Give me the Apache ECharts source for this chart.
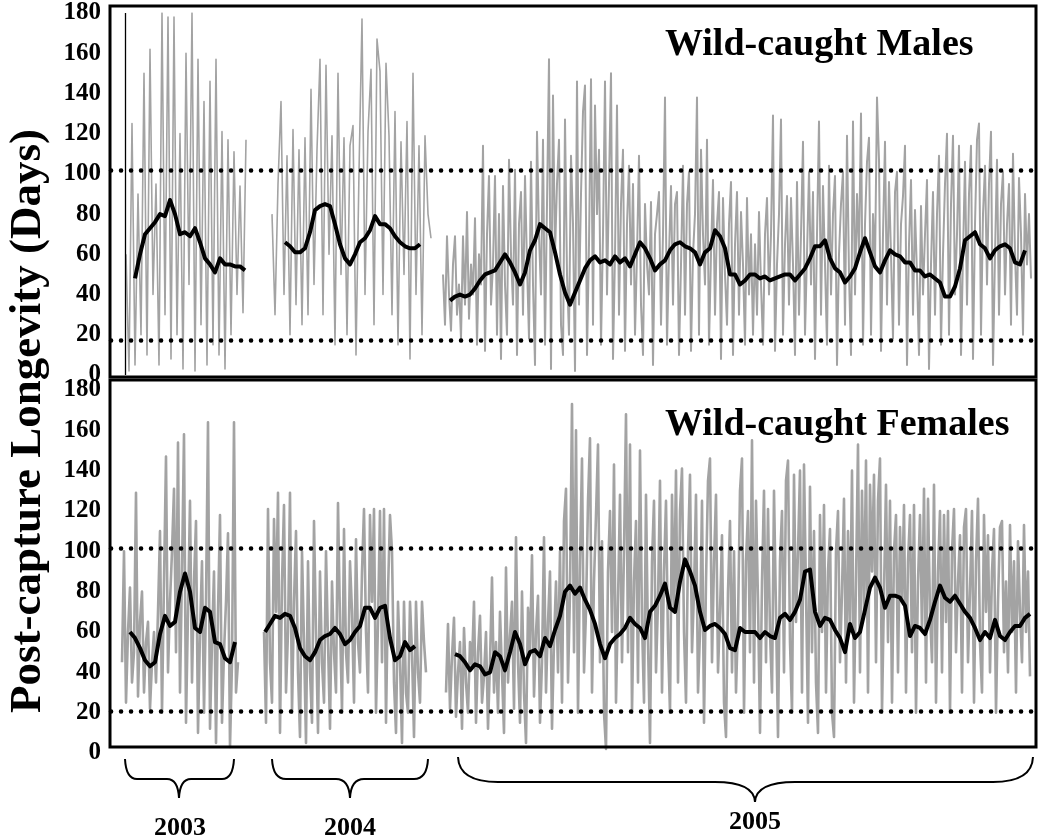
<!DOCTYPE html>
<html>
<head>
<meta charset="utf-8">
<script src="https://cdn.jsdelivr.net/npm/echarts@6/dist/echarts.min.js"></script>
<style>
  html, body { margin: 0; padding: 0; background: #fff; }
  #chart { width: 1050px; height: 840px; }
</style>
</head>
<body>
<div id="chart"></div>
<script>
// x is a day index along the season strip (0..925), y is post-capture longevity in days
const SPARSE_STEP = 3;  // daily values, plotted every 3rd day (males 2003/2004)
const DENSE_STEP = 2;   // daily values, plotted every 2nd day
const SMOOTH_STEP = 5;  // running mean, plotted every 5th day
const X_MAX = 925;

const yTicks = [0, 20, 40, 60, 80, 100, 120, 140, 160, 180];
const years = ['2003', '2004', '2005'];

// ---------- wild-caught males ----------
const maleRef = [102, 17.5];   // dotted limits
const maleStartLine = 14;      // thin line at the first sample day

const m03Start = 15, m03SmoothStart = 24;
const m03Daily = [60, 2, 125, 5, 90, 20, 150, 10, 162, 40, 95, 5, 180, 30, 178, 8, 178, 20, 120, 3,
  160, 45, 180, 2, 157, 25, 136, 5, 146, 15, 157, 10, 121, 3, 117, 20, 111, 40, 94, 31, 117];
const m03Smooth = [48, 60, 70, 73, 76, 80, 79, 87, 80, 70, 71, 69, 73, 66, 58, 55, 51, 58, 55, 55,
  54, 54, 52];

const m04Start = 161, m04SmoothStart = 174;
const m04Daily = [80, 30, 95, 136, 40, 109, 20, 122, 35, 112, 25, 118, 30, 142, 45, 112, 157, 30, 154, 60,
  119, 15, 150, 50, 118, 20, 114, 124, 10, 101, 177, 40, 121, 152, 25, 167, 151, 40, 155, 119,
  30, 131, 15, 116, 50, 126, 8, 150, 40, 114, 20, 119, 80, 68];
const m04Smooth = [66, 64, 61, 61, 63, 71, 82, 84, 85, 84, 75, 65, 58, 55, 60, 66, 68, 72, 79, 75,
  75, 73, 69, 66, 64, 63, 63, 65];

const m05Start = 332, m05SmoothStart = 339;
const m05Daily = [
  50, 25, 69, 40, 22, 55, 69, 30, 45, 18, 69, 35, 81, 28, 55, 40, 78, 15, 60, 45,
  114, 12, 70, 99, 35, 55, 99, 20, 80, 8, 94, 45, 20, 107, 60, 35, 102, 10, 75, 91,
  30, 99, 55, 18, 106, 45, 5, 121, 70, 40, 117, 15, 85, 157, 3, 139, 60, 95, 117, 25,
  10, 127, 50, 20, 109, 75, 2, 146, 35, 90, 131, 144, 10, 65, 147, 25, 134, 80, 112, 15,
  70, 146, 40, 95, 150, 8, 60, 134, 30, 85, 112, 12, 75, 104, 45, 95, 20, 60, 109, 35,
  10, 85, 55, 40, 86, 5, 70, 80, 91, 25, 70, 138, 15, 60, 94, 35, 85, 91, 10, 55,
  104, 30, 85, 101, 12, 60, 80, 138, 20, 112, 70, 45, 117, 15, 60, 97, 30, 75, 91, 8,
  88, 50, 25, 75, 96, 10, 65, 91, 30, 81, 55, 15, 88, 40, 70, 20, 65, 30, 81, 45,
  15, 70, 88, 40, 70, 129, 12, 55, 80, 127, 20, 65, 89, 35, 88, 55, 10, 96, 30, 70,
  116, 20, 60, 101, 45, 91, 8, 70, 126, 30, 94, 55, 15, 104, 40, 80, 99, 5, 60, 85,
  101, 25, 119, 50, 10, 126, 40, 90, 60, 130, 15, 75, 106, 118, 20, 80, 55, 138, 107, 12,
  70, 116, 35, 96, 60, 18, 91, 101, 25, 75, 89, 114, 5, 65, 97, 30, 82, 50, 10, 84,
  40, 70, 97, 3, 55, 91, 30, 80, 109, 15, 60, 95, 120, 20, 85, 119, 40, 70, 114, 10,
  60, 106, 35, 90, 114, 8, 75, 117, 125, 20, 80, 104, 45, 95, 121, 5, 60, 107, 30, 85,
  101, 40, 75, 95, 25, 110, 60, 30, 98, 70, 20, 90, 55, 80, 48];
const m05Smooth = [37, 39, 40, 39, 40, 43, 47, 50, 51, 52, 56, 60, 56, 51, 45, 51, 62, 67, 75, 73,
  71, 61, 50, 41, 35, 41, 47, 53, 57, 59, 56, 57, 55, 59, 56, 58, 54, 60, 66, 63,
  58, 52, 55, 57, 62, 65, 66, 64, 63, 61, 55, 61, 63, 72, 69, 63, 50, 50, 45, 47,
  50, 50, 48, 49, 47, 48, 49, 50, 50, 47, 50, 53, 58, 64, 64, 67, 58, 53, 51, 46,
  49, 53, 61, 68, 61, 54, 51, 57, 62, 60, 59, 56, 56, 52, 52, 49, 50, 48, 46, 39,
  39, 44, 53, 67, 69, 71, 65, 63, 58, 62, 64, 65, 63, 56, 55, 62];

// ---------- wild-caught females ----------
const femaleRef = [101.5, 20.5];

const f03Start = 11, f03SmoothStart = 19;
const f03Daily = [
  45, 100, 25, 60, 82, 35, 50, 129, 28, 65, 80, 30, 55, 65, 22, 45, 60, 35, 70, 110,
  20, 85, 147, 40, 75, 100, 131, 50, 154, 30, 90, 158, 15, 70, 125, 35, 85, 115, 10, 60,
  95, 20, 75, 164, 12, 55, 90, 5, 70, 118, 15, 50, 75, 109, 3, 45, 164, 30, 45];
const f03Smooth = [60, 57, 52, 46, 43, 45, 59, 68, 63, 65, 80, 89, 80, 62, 60, 72, 70, 55, 54, 47,
  45, 55];

const f04Start = 153, f04SmoothStart = 154;
const f04Daily = [
  60, 15, 121, 45, 25, 116, 70, 129, 10, 85, 123, 30, 60, 129, 20, 75, 110, 40, 8, 100,
  55, 5, 95, 40, 15, 115, 60, 10, 90, 45, 25, 100, 55, 12, 85, 50, 30, 124, 65, 20,
  111, 50, 35, 95, 70, 25, 106, 55, 40, 90, 121, 60, 30, 118, 75, 121, 20, 65, 120, 45,
  121, 15, 80, 118, 100, 35, 10, 75, 45, 5, 75, 30, 20, 75, 50, 8, 75, 40, 25, 75,
  55, 40];
const f04Smooth = [60, 64, 68, 67, 69, 68, 62, 52, 48, 46, 50, 56, 58, 59, 62, 59, 54, 56, 60, 63,
  72, 72, 67, 72, 73, 57, 46, 48, 55, 51, 53];

const f05Start = 335, f05SmoothStart = 344;
const f05Daily = [
  30, 64, 22, 48, 67, 18, 40, 55, 12, 62, 35, 20, 55, 44, 75, 15, 50, 68, 25, 38,
  60, 12, 45, 87, 30, 55, 20, 70, 40, 10, 92, 35, 58, 75, 22, 107, 45, 15, 80, 30,
  5, 72, 50, 98, 28, 60, 78, 15, 45, 107, 30, 65, 90, 12, 55, 85, 40, 100, 25, 115,
  131, 35, 80, 173, 50, 160, 20, 95, 146, 40, 70, 125, 156, 30, 85, 118, 153, 45, 105, 20,
  2, 90, 120, 60, 143, 25, 75, 128, 45, 100, 168, 50, 153, 20, 85, 115, 35, 150, 65, 25,
  128, 55, 5, 95, 125, 40, 75, 135, 30, 90, 125, 55, 20, 128, 70, 140, 35, 120, 141, 60,
  25, 100, 138, 50, 80, 128, 30, 60, 125, 15, 85, 135, 146, 45, 95, 128, 40, 70, 108, 25,
  8, 80, 115, 40, 100, 30, 65, 130, 146, 20, 95, 120, 50, 155, 35, 125, 75, 10, 85, 130,
  45, 121, 60, 30, 130, 70, 8, 95, 120, 40, 135, 145, 55, 20, 138, 65, 100, 140, 30, 143,
  80, 15, 132, 50, 110, 35, 10, 118, 60, 123, 30, 90, 111, 20, 8, 100, 120, 45, 80, 126,
  35, 110, 60, 140, 25, 85, 153, 40, 130, 70, 145, 30, 133, 90, 138, 45, 125, 146, 20, 80,
  133, 55, 125, 25, 100, 118, 40, 112, 75, 123, 30, 95, 118, 50, 123, 20, 85, 118, 60, 131,
  35, 126, 70, 45, 133, 25, 90, 120, 40, 118, 65, 120, 20, 100, 121, 50, 85, 108, 30, 112,
  121, 45, 80, 120, 25, 95, 126, 55, 30, 118, 70, 108, 40, 90, 111, 20, 75, 112, 115, 50,
  85, 40, 113, 60, 95, 30, 105, 70, 45, 113, 60, 90, 38];
const f05Smooth = [49, 48, 45, 41, 44, 43, 39, 40, 50, 48, 41, 50, 60, 54, 44, 50, 51, 48, 57, 53,
  61, 68, 80, 83, 79, 82, 76, 71, 64, 54, 47, 54, 57, 59, 62, 67, 64, 62, 57, 70,
  73, 78, 84, 72, 70, 85, 96, 90, 83, 70, 61, 63, 64, 62, 59, 52, 51, 62, 60, 60,
  60, 57, 60, 58, 57, 67, 69, 66, 70, 76, 90, 91, 70, 63, 67, 66, 61, 57, 50, 64,
  57, 60, 71, 82, 87, 82, 72, 78, 78, 77, 73, 58, 63, 62, 59, 66, 75, 83, 77, 75,
  78, 74, 70, 67, 62, 56, 60, 57, 66, 58, 56, 60, 63, 63, 67, 69];

const FONT = '"Liberation Serif", "Times New Roman", serif';
const GRAY = '#a3a3a3';

function pts(start, step, vals) {
  return vals.map((v, i) => [start + i * step, v]);
}

function lineSeries(panel, data, color, width, z, extra) {
  return Object.assign({
    type: 'line',
    xAxisIndex: panel,
    yAxisIndex: panel,
    data: data,
    symbol: 'none',
    showSymbol: false,
    silent: true,
    sampling: null,
    z: z,
    lineStyle: { color: color, width: width, join: 'round' }
  }, extra || {});
}

function refLines(vals, extra) {
  const d = vals.map(v => ({ yAxis: v }));
  return {
    markLine: {
      silent: true,
      symbol: 'none',
      animation: false,
      label: { show: false },
      lineStyle: { color: '#000', width: 4.5, type: [0.1, 9.9], cap: 'round' },
      data: d.concat(extra || [])
    }
  };
}

const series = [
  // males, daily values
  lineSeries(0, pts(m03Start, SPARSE_STEP, m03Daily), GRAY, 1.6, 1,
    refLines(maleRef, [{ xAxis: maleStartLine, lineStyle: { type: 'solid', width: 1.3, color: '#000', cap: 'butt' } }])),
  lineSeries(0, pts(m04Start, SPARSE_STEP, m04Daily), GRAY, 1.6, 2),
  lineSeries(0, pts(m05Start, DENSE_STEP, m05Daily), GRAY, 2, 2),
  // males, running mean
  lineSeries(0, pts(m03SmoothStart, SMOOTH_STEP, m03Smooth), '#000', 4, 3),
  lineSeries(0, pts(m04SmoothStart, SMOOTH_STEP, m04Smooth), '#000', 4, 3),
  lineSeries(0, pts(m05SmoothStart, SMOOTH_STEP, m05Smooth), '#000', 4, 3),
  // females, daily values
  lineSeries(1, pts(f03Start, DENSE_STEP, f03Daily), GRAY, 2.6, 1, refLines(femaleRef)),
  lineSeries(1, pts(f04Start, DENSE_STEP, f04Daily), GRAY, 2.6, 2),
  lineSeries(1, pts(f05Start, DENSE_STEP, f05Daily), GRAY, 2.6, 2),
  // females, running mean
  lineSeries(1, pts(f03SmoothStart, SMOOTH_STEP, f03Smooth), '#000', 4, 3),
  lineSeries(1, pts(f04SmoothStart, SMOOTH_STEP, f04Smooth), '#000', 4, 3),
  lineSeries(1, pts(f05SmoothStart, SMOOTH_STEP, f05Smooth), '#000', 4, 3)
];

function yAxis(grid) {
  return {
    type: 'value', gridIndex: grid,
    min: yTicks[0], max: yTicks[yTicks.length - 1], interval: yTicks[1] - yTicks[0],
    axisLine: { show: false }, axisTick: { show: false }, splitLine: { show: false },
    axisLabel: { margin: 10, color: '#000', fontFamily: FONT, fontWeight: 'bold', fontSize: 25 }
  };
}
function xAxis(grid) {
  return {
    type: 'value', gridIndex: grid, min: 0, max: X_MAX,
    axisLine: { show: false }, axisTick: { show: false }, splitLine: { show: false },
    axisLabel: { show: false }
  };
}

function txt(x, y, text, size, align, rot) {
  return {
    type: 'text', x: x, y: y, rotation: rot || 0, z: 110, silent: true,
    style: {
      text: text, fill: '#000', font: 'bold ' + size + 'px ' + FONT,
      textAlign: align, textVerticalAlign: 'middle'
    }
  };
}

// curly brace under a year: left end, right end, tip x, top y, bar y, tip y
function brace(x1, x2, xm, yTop, yBar, yTip, r) {
  const st = { fill: null, stroke: '#000', lineWidth: 2 };
  const q = (a, b, c, d, e, f) => ({ type: 'bezierCurve', z: 110, silent: true,
    shape: { x1: a, y1: b, cpx1: c, cpy1: d, x2: e, y2: f }, style: st });
  const l = (a, b, c, d) => ({ type: 'line', z: 110, silent: true,
    shape: { x1: a, y1: b, x2: c, y2: d }, style: st });
  return [
    q(x1, yTop, x1 + 1, yBar, x1 + r, yBar),
    l(x1 + r, yBar, xm - r, yBar),
    q(xm - r, yBar, xm - 1, yBar, xm, yTip),
    q(xm, yTip, xm + 1, yBar, xm + r, yBar),
    l(xm + r, yBar, x2 - r, yBar),
    q(x2 - r, yBar, x2 - 1, yBar, x2, yTop)
  ];
}

const option = {
  animation: false,
  backgroundColor: '#fff',
  grid: [
    { left: 111, right: 14, top: 13, height: 362 },
    { left: 111, right: 14, top: 390, height: 363 }
  ],
  xAxis: [xAxis(0), xAxis(1)],
  yAxis: [yAxis(0), yAxis(1)],
  series: series,
  graphic: [
    { type: 'rect', z: 100, silent: true, shape: { x: 110, y: 6, width: 926, height: 371 },
      style: { fill: null, stroke: '#000', lineWidth: 3 } },
    { type: 'rect', z: 100, silent: true, shape: { x: 110, y: 380, width: 926, height: 367 },
      style: { fill: null, stroke: '#000', lineWidth: 3 } },
    txt(665, 45, 'Wild-caught Males', 38, 'left'),
    txt(665, 425, 'Wild-caught Females', 38, 'left'),
    txt(28, 421, 'Post-capture Longevity (Days)', 45, 'center', Math.PI / 2),
    txt(180, 828, years[0], 26, 'center'),
    txt(350, 828, years[1], 26, 'center'),
    txt(755, 822, years[2], 26, 'center')
  ].concat(
    brace(125, 234, 179, 759, 779, 798, 12),
    brace(272, 428, 350, 759, 779, 798, 14),
    brace(458, 1033, 755, 757, 782, 802, 40)
  )
};

const chart = echarts.init(document.getElementById('chart'), null, { renderer: 'canvas' });
chart.setOption(option);
</script>
</body>
</html>
